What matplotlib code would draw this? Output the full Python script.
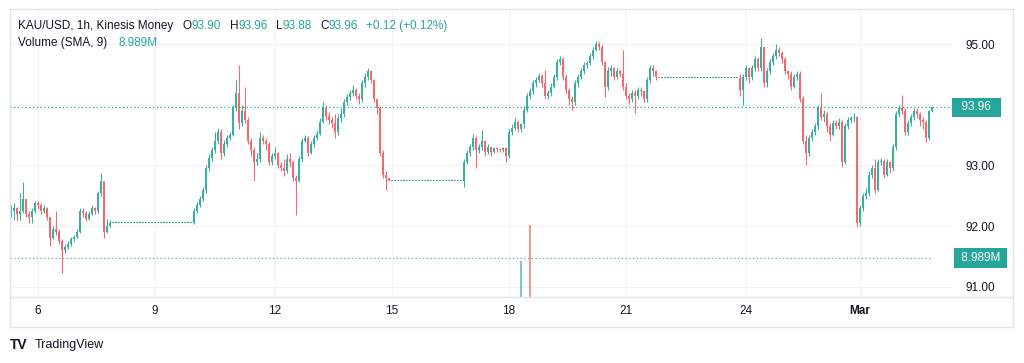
import numpy as np
import matplotlib.pyplot as plt
from matplotlib.patches import Rectangle
from matplotlib.lines import Line2D
from matplotlib.transforms import blended_transform_factory

plt.rcParams['font.family'] = ['Liberation Sans', 'DejaVu Sans']

# --- hourly candles (open = previous close) ---
first_open = 92.20

a_close = [92.25, 92.30, 92.20, 92.25, 92.45, 92.20, 92.15, 92.25, 92.38, 92.35,
           92.25, 92.30, 92.15, 91.80, 91.95, 91.90, 91.75, 91.60, 91.65, 91.70,
           91.78, 91.82, 91.90, 92.25, 92.22, 92.12, 92.20, 92.30, 92.25, 92.55,
           92.75, 91.90, 92.00, 92.05]
a_high = [92.35, 92.38, 92.32, 92.55, 92.73, 92.45, 92.25, 92.30, 92.42, 92.42,
          92.38, 92.35, 92.32, 92.15, 92.00, 92.25, 91.95, 91.78, 91.70, 91.75,
          91.82, 91.86, 91.95, 92.30, 92.30, 92.25, 92.25, 92.35, 92.32, 92.58,
          92.87, 92.70, 92.12, 92.10]
a_low = [92.15, 92.10, 92.08, 92.10, 92.22, 92.15, 92.05, 92.05, 92.22, 92.28,
         92.20, 92.22, 92.10, 91.68, 91.78, 91.85, 91.70, 91.23, 91.55, 91.62,
         91.68, 91.76, 91.80, 91.88, 92.15, 92.08, 92.10, 92.18, 92.20, 92.22,
         92.50, 91.80, 91.88, 91.98]

flat_1 = [92.05] * 27

b_close = [92.25, 92.35, 92.45, 92.60, 92.95, 93.12, 93.25, 93.40, 93.55, 93.20,
           93.35, 93.45, 93.50, 93.95, 94.20, 93.70, 93.90, 93.75, 93.40, 93.25,
           93.05, 93.10, 93.45, 93.40, 93.35, 93.05, 93.15, 93.20, 93.00, 92.95,
           92.90, 93.10, 93.05, 92.80, 92.75, 93.10, 93.40, 93.45, 93.20, 93.35,
           93.45, 93.52, 93.72, 93.95, 93.82, 93.75, 93.70, 93.55, 93.78, 93.85,
           94.05, 94.12, 94.20, 94.25, 94.15, 94.10, 94.35, 94.45, 94.55, 94.40,
           94.10, 93.95, 93.20, 92.85, 92.80]
b_high = [92.30, 92.40, 92.50, 92.65, 93.00, 93.18, 93.30, 93.55, 93.62, 93.60,
          93.42, 93.50, 93.55, 94.00, 94.40, 94.65, 94.00, 94.30, 93.80, 93.45,
          93.30, 93.20, 93.55, 93.50, 93.45, 93.38, 93.20, 93.30, 93.22, 93.05,
          93.10, 93.18, 93.20, 93.08, 92.85, 93.15, 93.45, 93.50, 93.48, 93.40,
          93.50, 93.58, 93.78, 94.05, 94.00, 93.88, 93.80, 93.85, 93.85, 93.95,
          94.10, 94.18, 94.25, 94.32, 94.28, 94.20, 94.40, 94.52, 94.60, 94.58,
          94.42, 94.05, 93.98, 93.25, 92.90]
b_low = [92.03, 92.22, 92.32, 92.42, 92.55, 92.90, 93.08, 93.20, 93.35, 93.10,
         93.15, 93.30, 93.42, 93.48, 93.90, 93.60, 93.65, 93.70, 93.35, 93.15,
         92.74, 93.00, 93.05, 93.35, 93.25, 93.00, 93.00, 93.10, 92.95, 92.90,
         92.82, 92.88, 92.98, 92.75, 92.18, 92.72, 93.05, 93.38, 93.15, 93.18,
         93.30, 93.42, 93.50, 93.70, 93.75, 93.68, 93.62, 93.45, 93.50, 93.72,
         93.80, 94.00, 94.08, 94.15, 94.10, 94.02, 94.05, 94.30, 94.40, 94.35,
         94.05, 93.85, 93.15, 92.80, 92.60]

flat_2 = [92.74] * 25

c_close = [93.05, 93.20, 93.30, 93.45, 93.25, 93.30, 93.40, 93.22, 93.30, 93.22,
           93.28, 93.27, 93.25, 93.28, 93.15, 93.55, 93.62, 93.72, 93.60, 93.68,
           93.92, 94.15, 94.22, 94.35, 94.40, 94.48, 94.35, 94.15, 94.20, 94.30,
           94.45, 94.70, 94.75, 94.45, 94.25, 94.10, 94.05, 94.35, 94.45, 94.55,
           94.65, 94.68, 94.80, 94.90, 95.00, 94.95, 94.70, 94.30, 94.55, 94.60,
           94.45, 94.55, 94.50, 94.30, 94.15, 94.10, 94.20, 94.15, 94.25, 94.22,
           94.10, 94.40, 94.60, 94.55, 94.45]
c_high = [93.10, 93.25, 93.35, 93.52, 93.48, 93.35, 93.58, 93.42, 93.35, 93.32,
          93.30, 93.30, 93.29, 93.30, 93.30, 93.60, 93.68, 93.78, 93.75, 93.70,
          93.98, 94.20, 94.28, 94.40, 94.45, 94.52, 94.50, 94.57, 94.25, 94.35,
          94.50, 94.75, 94.80, 94.78, 94.50, 94.28, 94.15, 94.40, 94.50, 94.60,
          94.70, 94.72, 94.85, 94.95, 95.05, 95.03, 94.98, 94.72, 94.62, 94.66,
          94.62, 94.60, 94.58, 94.90, 94.35, 94.20, 94.25, 94.25, 94.30, 94.30,
          94.25, 94.45, 94.65, 94.65, 94.58]
c_low = [92.64, 93.02, 93.15, 93.25, 92.96, 93.20, 93.25, 93.15, 93.18, 93.15,
         93.20, 93.22, 93.22, 93.22, 93.05, 93.12, 93.50, 93.58, 93.55, 93.55,
         93.62, 93.88, 94.10, 94.18, 94.30, 94.38, 94.30, 94.10, 94.10, 94.15,
         94.28, 94.40, 94.65, 94.40, 94.20, 94.00, 93.91, 94.00, 94.30, 94.42,
         94.50, 94.60, 94.65, 94.75, 94.88, 94.90, 94.65, 94.12, 94.25, 94.48,
         94.40, 94.42, 94.45, 94.25, 94.10, 94.02, 94.05, 93.86, 94.10, 94.15,
         94.05, 94.05, 94.35, 94.48, 94.40]

flat_3 = [94.44] * 27

d_close = [94.25, 94.45, 94.60, 94.45, 94.60, 94.75, 94.60, 94.95, 94.35, 94.55,
           94.70, 94.80, 94.90, 94.85, 94.75, 94.55, 94.50, 94.30, 94.45, 94.50,
           94.10, 93.40, 93.20, 93.45, 93.55, 93.65, 93.95, 93.80, 93.85, 93.65,
           93.50, 93.70, 93.65, 93.72, 93.05, 93.65, 93.75, 93.78, 93.80, 92.05,
           92.30, 92.50, 92.55, 92.85, 92.95, 92.60, 93.05, 93.08, 92.85, 93.05,
           92.95, 93.30, 93.85, 93.95, 93.90, 93.55, 93.70, 93.80, 93.90, 93.85,
           93.75, 93.72, 93.45, 93.90, 93.96]
d_high = [94.50, 94.50, 94.65, 94.62, 94.65, 94.80, 94.78, 95.10, 94.95, 94.60,
          94.75, 94.85, 95.00, 94.95, 94.88, 94.78, 94.58, 94.55, 94.50, 94.55,
          94.55, 94.15, 93.50, 93.50, 93.60, 93.70, 94.00, 94.20, 93.92, 93.88,
          93.70, 93.75, 93.75, 93.78, 93.75, 93.70, 93.80, 93.82, 93.86, 93.82,
          92.35, 92.55, 92.62, 92.90, 93.00, 93.10, 93.10, 93.12, 93.10, 93.10,
          93.08, 93.35, 93.90, 94.00, 94.16, 93.95, 93.75, 93.85, 93.95, 93.95,
          93.88, 93.80, 93.75, 93.92, 93.96]
d_low = [94.15, 94.00, 94.40, 94.35, 94.40, 94.55, 94.55, 94.55, 94.30, 94.30,
         94.50, 94.65, 94.75, 94.80, 94.68, 94.50, 94.42, 94.25, 94.28, 94.40,
         94.05, 93.35, 93.00, 93.15, 93.40, 93.50, 93.60, 93.75, 93.72, 93.55,
         93.40, 93.48, 93.60, 93.60, 92.98, 93.02, 93.60, 93.70, 93.72, 91.99,
         92.00, 92.25, 92.45, 92.50, 92.80, 92.55, 92.58, 93.00, 92.80, 92.82,
         92.88, 92.90, 93.25, 93.80, 93.85, 93.50, 93.50, 93.65, 93.75, 93.78,
         93.65, 93.60, 93.38, 93.42, 93.88]

close = a_close + flat_1 + b_close + flat_2 + c_close + flat_3 + d_close
high = a_high + flat_1 + b_high + flat_2 + c_high + flat_3 + d_high
low = a_low + flat_1 + b_low + flat_2 + c_low + flat_3 + d_low
opens = [first_open] + close[:-1]

# volume pane
vol_index = [170, 173]
vol_value = [8.3e6, 16.6e6]
vol_up = [True, False]
vol_sma = 8.989e6
vol_top = 66.4e6

last_price = 93.96
price_ticks = [91, 92, 93, 94, 95]
price_labels = ['91.00', '92.00', '93.00', '', '95.00']
time_ticks = [9, 48, 88, 127, 166, 205, 245, 283]
time_labels = ['6', '9', '12', '15', '18', '21', '24', 'Mar']

UP = '#26a69a'
DOWN = '#ef5350'
TEXT = '#131722'
GRID = '#f0f2f6'
BORDER = '#e0e3eb'

fig = plt.figure(figsize=(10.24, 3.63), dpi=100)
ax = fig.add_axes([10 / 1024, 66 / 363, 943 / 1024, 288 / 363])

o = np.array(opens)
c = np.array(close)
h = np.array(high)
l = np.array(low)
x = np.arange(len(c))
up = c >= o
cols = np.where(up, '#3aae9f', '#f06a6f')

ax.vlines(x, l, h, colors=cols, lw=0.8, zorder=3)
body = np.maximum(np.abs(c - o), 0.012)
ax.bar(x, body, bottom=np.minimum(o, c), width=0.6, color=cols, lw=0, zorder=3)

ax.axhline(last_price, color=UP, lw=0.9, ls=(0, (1, 2)), zorder=4)

# volume overlay
ax2 = ax.twinx()
ax2.set_ylim(0, vol_top)
ax2.bar(vol_index, vol_value, width=0.4,
        color=[UP if u else DOWN for u in vol_up], alpha=0.6, lw=0)
ax2.hlines(vol_sma, -1 / 3, len(c) - 1, color='#6aa9a2', lw=0.9, ls=(0, (1, 2)))
ax2.axis('off')

ax.set_xlim(-1 / 3, 314)
ax.set_ylim(90.832, 95.577)
ax.set_yticks(price_ticks)
ax.set_yticklabels(price_labels)
ax.yaxis.tick_right()
ax.set_xticks(time_ticks)
ax.set_xticklabels(time_labels)
ax.xaxis.get_ticklabels()[-1].set_fontweight('bold')
ax.tick_params(axis='y', which='both', left=False, labelleft=False,
               right=False, labelright=True, length=0, pad=9,
               labelsize=8.5, labelcolor=TEXT)
ax.tick_params(axis='x', length=0, pad=6, labelsize=8.5, labelcolor=TEXT)
ax.grid(True, color=GRID, lw=0.8, zorder=0)
for s in ax.spines.values():
    s.set_visible(False)

# price scale tags
tr = blended_transform_factory(ax.transAxes, ax.transData)
ax.text(1.0249, last_price, '  93.96  ', transform=tr, ha='center', va='center',
        color='white', fontsize=8.5, clip_on=False, zorder=6,
        bbox=dict(boxstyle='square,pad=0.3', fc=UP, ec='none'))
tr2 = blended_transform_factory(ax2.transAxes, ax2.transData)
ax2.text(1.0292, vol_sma, ' 8.989M ', transform=tr2, ha='center', va='center',
         color='white', fontsize=8.5, clip_on=False, zorder=6,
         bbox=dict(boxstyle='square,pad=0.3', fc=UP, ec='none'))

# legend header
t = fig.text(18 / 1024, 1 - 26 / 363, 'KAU/USD, 1h, Kinesis Money',
             va='center', fontsize=8.5, color=TEXT)
header = [('O', TEXT, 7), ('93.90', UP, 0), ('H', TEXT, 6), ('93.96', UP, 0),
          ('L', TEXT, 6), ('93.88', UP, 0), ('C', TEXT, 6), ('93.96', UP, 0),
          ('+0.12 (+0.12%)', UP, 6)]
for s, col, gap in header:
    t = ax.annotate(s, xy=(1, 0.5), xycoords=t, xytext=(gap, 0),
                    textcoords='offset points', va='center', ha='left',
                    fontsize=8.5, color=col, annotation_clip=False)
t = fig.text(18 / 1024, 1 - 43 / 363, 'Volume (SMA, 9)',
             va='center', fontsize=8.5, color=TEXT)
ax.annotate('8.989M', xy=(1, 0.5), xycoords=t, xytext=(8, 0),
            textcoords='offset points', va='center', ha='left',
            fontsize=8.5, color=UP, annotation_clip=False)

# frame
fig.add_artist(Rectangle((10 / 1024, 36 / 363), 1003 / 1024, 318 / 363,
                         transform=fig.transFigure, fill=False, ec=BORDER, lw=1))
fig.add_artist(Line2D([10 / 1024, 1013 / 1024], [66 / 363, 66 / 363],
                      transform=fig.transFigure, color=BORDER, lw=1))

# footer logo
fig.text(10 / 1024, 1 - 345 / 363, 'TV', fontsize=10, fontweight='heavy',
         color=TEXT, va='center')
fig.text(35 / 1024, 1 - 345 / 363, 'TradingView', fontsize=9, color=TEXT,
         va='center')

fig.savefig('out.png', dpi=100, facecolor='white')
